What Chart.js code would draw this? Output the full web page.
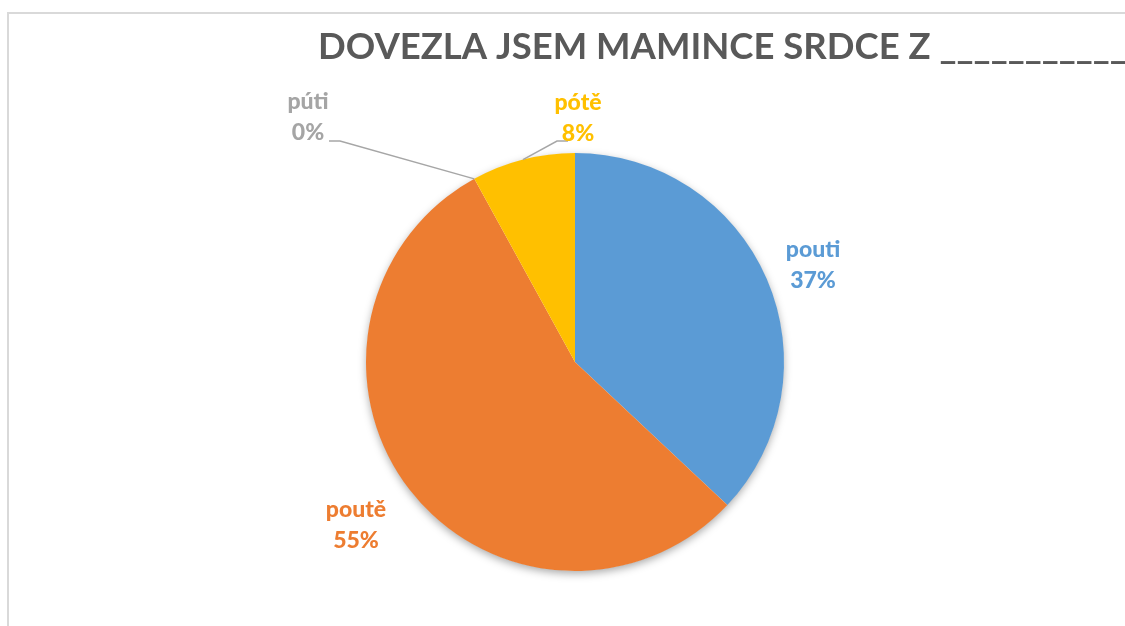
<!DOCTYPE html>
<html>
<head>
<meta charset="utf-8">
<script src="https://cdn.jsdelivr.net/npm/chart.js@4.4.1/dist/chart.umd.min.js"></script>
<style>
  html, body { margin: 0; padding: 0; background: #ffffff; }
  #wrap { position: relative; width: 1125px; height: 626px; }
  canvas { display: block; }
</style>
</head>
<body>
<div id="wrap"><canvas id="c" width="1125" height="626"></canvas></div>
<script>
// ---- data ----
const categories = ['pouti', 'poutě', 'púti', 'pótě'];
const values = [37, 55, 0, 8];
const titleText = 'DOVEZLA JSEM MAMINCE SRDCE Z ______________';

// ---- styles ----
const sliceColors = ['#5B9BD5', '#ED7D31', '#A5A5A5', '#FFC000'];
const labelFont = '900 23px Lato';
// label anchor offsets (first-line baseline) relative to pie centre, plus optional leader line
const labelLayout = [
  { dx: 238, dy: -105 },
  { dx: -219, dy: 155 },
  { dx: -267, dy: -253, leader: { elbowDx: -235, elbowDy: -221, endDx: -246 } },
  { dx: 3, dy: -252, leader: { elbowDx: -18, elbowDy: -221, endDx: -7 } }
];

const framePlugin = {
  id: 'frame',
  beforeDraw(chart) {
    const ctx = chart.ctx;
    ctx.save();
    ctx.fillStyle = '#ffffff';
    ctx.fillRect(0, 0, chart.width, chart.height);
    ctx.strokeStyle = '#D9D9D9';
    ctx.lineWidth = 2;
    ctx.beginPath();
    ctx.moveTo(8, chart.height + 5);
    ctx.lineTo(8, 13);
    ctx.lineTo(chart.width + 5, 13);
    ctx.stroke();
    // title
    ctx.fillStyle = '#595959';
    ctx.font = 'bold 36.5px Lato';
    ctx.textBaseline = 'alphabetic';
    ctx.textAlign = 'left';
    ctx.fillText(titleText, 318, 59);
    ctx.restore();
  },
  beforeDatasetsDraw(chart) {
    const arc = chart.getDatasetMeta(0).data[0];
    if (!arc) return;
    const ctx = chart.ctx;
    ctx.save();
    ctx.shadowColor = 'rgba(0,0,0,0.35)';
    ctx.shadowBlur = 9;
    ctx.shadowOffsetX = 0;
    ctx.shadowOffsetY = 3;
    ctx.fillStyle = '#ffffff';
    ctx.beginPath();
    ctx.arc(arc.x, arc.y, arc.outerRadius - 0.5, 0, Math.PI * 2);
    ctx.fill();
    ctx.restore();
  },
  afterDatasetsDraw(chart) {
    const meta = chart.getDatasetMeta(0);
    const ctx = chart.ctx;
    const total = values.reduce((a, b) => a + b, 0);
    ctx.save();
    meta.data.forEach((arc, i) => {
      const cx = arc.x, cy = arc.y, r = arc.outerRadius;
      const lay = labelLayout[i];
      const mid = (arc.startAngle + arc.endAngle) / 2;
      if (lay.leader) {
        const ax = cx + Math.cos(mid) * r;
        const ay = cy + Math.sin(mid) * r;
        ctx.strokeStyle = '#A6A6A6';
        ctx.lineWidth = 1.5;
        ctx.beginPath();
        ctx.moveTo(ax, ay);
        ctx.lineTo(cx + lay.leader.elbowDx, cy + lay.leader.elbowDy);
        ctx.lineTo(cx + lay.leader.endDx, cy + lay.leader.elbowDy);
        ctx.stroke();
      }
      const pct = Math.round(values[i] / total * 100) + '%';
      ctx.fillStyle = sliceColors[i];
      ctx.font = labelFont;
      ctx.textAlign = 'center';
      ctx.textBaseline = 'alphabetic';
      const x = cx + lay.dx, y = cy + lay.dy;
      ctx.fillText(categories[i], x, y);
      ctx.fillText(pct, x, y + 31);
    });
    ctx.restore();
  }
};

new Chart(document.getElementById('c'), {
  type: 'pie',
  data: {
    labels: categories,
    datasets: [{
      data: values,
      backgroundColor: sliceColors,
      borderWidth: 0,
      borderColor: sliceColors
    }]
  },
  options: {
    responsive: false,
    animation: false,
    layout: { padding: { left: 225, right: 200, top: 153, bottom: 55 } },
    plugins: {
      legend: { display: false },
      title: { display: false },
      tooltip: { enabled: false }
    }
  },
  plugins: [framePlugin]
});
</script>
</body>
</html>
